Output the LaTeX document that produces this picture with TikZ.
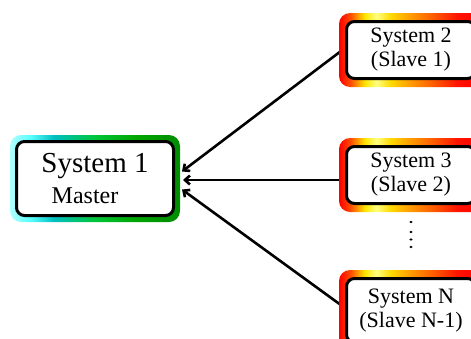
\documentclass[tikz,border=0pt]{standalone}
\usepackage{fontspec}
\setmainfont{Liberation Serif}
\usetikzlibrary{arrows.meta,backgrounds}

% colour bands round the boxes
\pgfdeclarehorizontalshading{slaveglow}{100bp}{color(0bp)=(red); color(25bp)=(red);
  color(29bp)=(orange!60!red); color(34bp)=(yellow!80!orange); color(38bp)=(yellow!50!white);
  color(43bp)=(yellow!70!orange); color(50bp)=(orange!80!yellow); color(58bp)=(orange!70!red);
  color(66bp)=(red!85!orange); color(75bp)=(red); color(100bp)=(red)}
\pgfdeclarehorizontalshading{masterglow}{100bp}{color(0bp)=(cyan!30); color(25bp)=(cyan!30);
  color(31bp)=(cyan!65); color(38bp)=(teal!50!cyan); color(50bp)=(green!55!teal);
  color(62bp)=(green!65!black); color(75bp)=(green!55!black); color(100bp)=(green!55!black)}

\tikzset{
  sysbox/.style={draw=black, line width=3pt, rounded corners=8pt, fill=white,
    align=center, inner sep=0pt},
  masterbox/.style={sysbox, minimum width=157pt, minimum height=74pt,
    font=\fontsize{29}{31}\selectfont},
  slavebox/.style={sysbox, minimum width=129pt, minimum height=57pt,
    font=\fontsize{22}{24}\selectfont},
  link/.style={line width=2.6pt, -{Straight Barb[length=5pt,width=9pt]}},
}

\begin{document}
\begin{tikzpicture}[x=1pt,y=-1pt]
  \useasboundingbox (0,0) rectangle (471,338);
  % master
  \node[masterbox] (sys1) at (95,178.5) {System 1\\{\fontsize{24}{31}\selectfont Master\hspace*{20pt}}};
  % slaves
  \node[slavebox] (s2) at (411,50) {System 2\\(Slave 1)};
  \node[slavebox] (s3) at (411,175) {System 3\\(Slave 2)};
  \node[slavebox, minimum height=64pt] (sN) at (411,310.5) {System N\\(Slave N-1)};
  % more slaves in between
  \foreach \y in {222,232,239.5,247}
    \fill (411,\y) ellipse (1.6pt and 1.2pt);
  \begin{scope}[on background layer]
    % links to the master
    \draw[link] ([yshift=2pt]s2.west) -- ([xshift=7pt,yshift=7pt]sys1.east);
    \draw[link] ([yshift=-5pt]s3.west) -- ([xshift=8pt,yshift=-1.5pt]sys1.east);
    \draw[link] ([yshift=2.5pt]sN.west) -- ([xshift=7pt,yshift=-11pt]sys1.east);
    % glow
    \shade[shading=masterglow, rounded corners=11pt]
      ([shift={(-5pt,-5pt)}]sys1.south west) rectangle ([shift={(5pt,5pt)}]sys1.north east);
    \foreach \n in {s2,s3,sN}
      \shade[shading=slaveglow, rounded corners=11pt]
        ([shift={(-6pt,-7pt)}]\n.south west) rectangle ([shift={(6pt,7pt)}]\n.north east);
  \end{scope}
\end{tikzpicture}
\end{document}
